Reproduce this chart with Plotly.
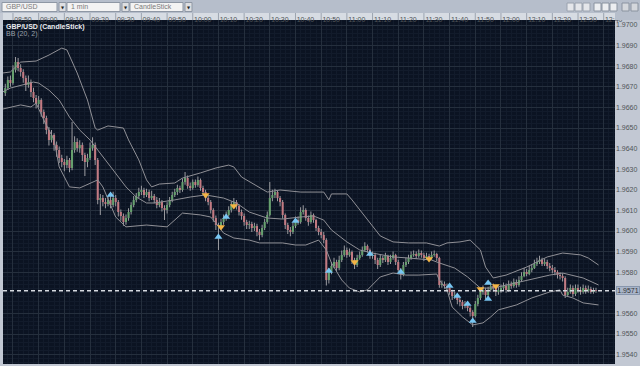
import pandas as pd
import plotly.graph_objects as go

# ---------------- data ----------------
DATE = "2008-01-15"
BAR_START = "08:47"          # first 1-minute bar
SYMBOL = "GBP/USD"
INTERVAL = "1 min"
CHART_TYPE = "CandleStick"
INDICATOR = "BB (20, 2)"

OPEN = [
    1.96670, 1.96694, 1.96733, 1.96718, 1.96782, 1.96820, 1.96791, 1.96772, 1.96743, 1.96709,
    1.96723, 1.96675, 1.96646, 1.96617, 1.96636, 1.96578, 1.96549, 1.96490, 1.96442, 1.96466,
    1.96418, 1.96393, 1.96354, 1.96335, 1.96320, 1.96345, 1.96306, 1.96393, 1.96432, 1.96403,
    1.96418, 1.96369, 1.96335, 1.96354, 1.96403, 1.96418, 1.96345, 1.96151, 1.96160, 1.96141,
    1.96131, 1.96151, 1.96126, 1.96160, 1.96141, 1.96092, 1.96073, 1.96044, 1.96063, 1.96092,
    1.96126, 1.96151, 1.96170, 1.96189, 1.96199, 1.96175, 1.96189, 1.96160, 1.96170, 1.96151,
    1.96126, 1.96141, 1.96112, 1.96102, 1.96126, 1.96151, 1.96175, 1.96189, 1.96209, 1.96199,
    1.96238, 1.96257, 1.96219, 1.96209, 1.96238, 1.96223, 1.96248, 1.96209, 1.96189, 1.96160,
    1.96141, 1.96102, 1.96063, 1.96029, 1.96024, 1.96044, 1.96063, 1.96078, 1.96102, 1.96126,
    1.96141, 1.96121, 1.96092, 1.96073, 1.96044, 1.96029, 1.96034, 1.96015, 1.96024, 1.95995,
    1.95981, 1.96015, 1.96044, 1.96078, 1.96160, 1.96175, 1.96189, 1.96160, 1.96141, 1.96078,
    1.96029, 1.96005, 1.95995, 1.96024, 1.96053, 1.96044, 1.96092, 1.96102, 1.96063, 1.96044,
    1.96078, 1.96053, 1.96015, 1.95995, 1.95981, 1.95956, 1.95762, 1.95801, 1.95830, 1.95850,
    1.95820, 1.95859, 1.95884, 1.95908, 1.95884, 1.95898, 1.95859, 1.95835, 1.95869, 1.95884,
    1.95908, 1.95927, 1.95908, 1.95879, 1.95884, 1.95859, 1.95835, 1.95869, 1.95859, 1.95879,
    1.95850, 1.95869, 1.95884, 1.95850, 1.95811, 1.95786, 1.95835, 1.95850, 1.95869, 1.95884,
    1.95888, 1.95879, 1.95893, 1.95884, 1.95869, 1.95879, 1.95869, 1.95884, 1.95888, 1.95869,
    1.95738, 1.95743, 1.95733, 1.95723, 1.95704, 1.95685, 1.95689, 1.95665, 1.95655, 1.95636,
    1.95646, 1.95626, 1.95607, 1.95587, 1.95646, 1.95675, 1.95704, 1.95714, 1.95689, 1.95714,
    1.95733, 1.95723, 1.95704, 1.95714, 1.95723, 1.95733, 1.95714, 1.95743, 1.95733, 1.95753,
    1.95738, 1.95762, 1.95782, 1.95801, 1.95791, 1.95811, 1.95820, 1.95840, 1.95850, 1.95859,
    1.95840, 1.95850, 1.95830, 1.95820, 1.95811, 1.95801, 1.95786, 1.95782, 1.95772, 1.95689,
    1.95704, 1.95723, 1.95694, 1.95723, 1.95714, 1.95704, 1.95723, 1.95709, 1.95719, 1.95704,
    1.95714,
]
HIGH = [
    1.96715, 1.96750, 1.96755, 1.96805, 1.96845, 1.96840, 1.96810, 1.96785, 1.96755, 1.96755,
    1.96735, 1.96695, 1.96660, 1.96655, 1.96645, 1.96590, 1.96560, 1.96505, 1.96490, 1.96475,
    1.96435, 1.96410, 1.96370, 1.96350, 1.96365, 1.96355, 1.96529, 1.96460, 1.96450, 1.96440,
    1.96430, 1.96380, 1.96375, 1.96430, 1.96455, 1.96430, 1.96355, 1.96180, 1.96175, 1.96160,
    1.96170, 1.96185, 1.96190, 1.96175, 1.96150, 1.96105, 1.96085, 1.96080, 1.96110, 1.96140,
    1.96170, 1.96185, 1.96210, 1.96220, 1.96210, 1.96205, 1.96200, 1.96195, 1.96180, 1.96165,
    1.96160, 1.96150, 1.96125, 1.96140, 1.96165, 1.96190, 1.96205, 1.96225, 1.96220, 1.96255,
    1.96286, 1.96270, 1.96235, 1.96250, 1.96250, 1.96265, 1.96255, 1.96220, 1.96200, 1.96170,
    1.96150, 1.96110, 1.96075, 1.96040, 1.96060, 1.96080, 1.96095, 1.96120, 1.96145, 1.96160,
    1.96150, 1.96130, 1.96105, 1.96085, 1.96055, 1.96050, 1.96045, 1.96040, 1.96035, 1.96010,
    1.96030, 1.96060, 1.96095, 1.96238, 1.96200, 1.96205, 1.96195, 1.96170, 1.96150, 1.96085,
    1.96040, 1.96020, 1.96040, 1.96070, 1.96070, 1.96115, 1.96125, 1.96110, 1.96075, 1.96095,
    1.96085, 1.96060, 1.96025, 1.96010, 1.95995, 1.95965, 1.95820, 1.95850, 1.95870, 1.95860,
    1.95880, 1.95905, 1.95930, 1.95920, 1.95915, 1.95905, 1.95870, 1.95885, 1.95900, 1.95925,
    1.95945, 1.95935, 1.95915, 1.95900, 1.95895, 1.95870, 1.95885, 1.95880, 1.95895, 1.95885,
    1.95885, 1.95900, 1.95890, 1.95860, 1.95820, 1.95850, 1.95870, 1.95885, 1.95900, 1.95905,
    1.95900, 1.95910, 1.95905, 1.95895, 1.95895, 1.95890, 1.95900, 1.95905, 1.95895, 1.95875,
    1.95760, 1.95755, 1.95745, 1.95735, 1.95715, 1.95705, 1.95695, 1.95680, 1.95665, 1.95660,
    1.95655, 1.95635, 1.95615, 1.95660, 1.95690, 1.95720, 1.95735, 1.95725, 1.95730, 1.95750,
    1.95745, 1.95735, 1.95730, 1.95740, 1.95750, 1.95745, 1.95760, 1.95755, 1.95770, 1.95765,
    1.95780, 1.95800, 1.95820, 1.95815, 1.95830, 1.95840, 1.95860, 1.95870, 1.95880, 1.95870,
    1.95865, 1.95860, 1.95845, 1.95835, 1.95825, 1.95810, 1.95800, 1.95795, 1.95780, 1.95725,
    1.95740, 1.95735, 1.95740, 1.95740, 1.95730, 1.95740, 1.95735, 1.95735, 1.95730, 1.95725,
    1.95725,
]
LOW = [
    1.96655, 1.96685, 1.96700, 1.96710, 1.96770, 1.96775, 1.96750, 1.96720, 1.96680, 1.96695,
    1.96650, 1.96625, 1.96595, 1.96600, 1.96555, 1.96520, 1.96470, 1.96415, 1.96430, 1.96390,
    1.96360, 1.96330, 1.96310, 1.96290, 1.96305, 1.96285, 1.96295, 1.96380, 1.96385, 1.96380,
    1.96340, 1.96267, 1.96310, 1.96345, 1.96390, 1.96320, 1.96130, 1.96078, 1.96120, 1.96110,
    1.96120, 1.96110, 1.96115, 1.96120, 1.96070, 1.96050, 1.96025, 1.96030, 1.96050, 1.96080,
    1.96115, 1.96140, 1.96160, 1.96175, 1.96160, 1.96165, 1.96145, 1.96150, 1.96135, 1.96110,
    1.96115, 1.96095, 1.96053, 1.96085, 1.96115, 1.96140, 1.96165, 1.96175, 1.96185, 1.96190,
    1.96225, 1.96205, 1.96195, 1.96200, 1.96210, 1.96215, 1.96195, 1.96175, 1.96145, 1.96125,
    1.96085, 1.96045, 1.96005, 1.95908, 1.96010, 1.96030, 1.96050, 1.96070, 1.96090, 1.96115,
    1.96105, 1.96075, 1.96055, 1.96025, 1.96010, 1.96010, 1.95995, 1.96000, 1.95975, 1.95955,
    1.95970, 1.96005, 1.96035, 1.96070, 1.96145, 1.96160, 1.96145, 1.96120, 1.96060, 1.96010,
    1.95985, 1.95975, 1.95985, 1.96015, 1.96030, 1.96035, 1.96080, 1.96050, 1.96025, 1.96035,
    1.96040, 1.96000, 1.95980, 1.95965, 1.95940, 1.95735, 1.95745, 1.95790, 1.95820, 1.95805,
    1.95810, 1.95850, 1.95875, 1.95870, 1.95875, 1.95840, 1.95815, 1.95825, 1.95860, 1.95875,
    1.95900, 1.95895, 1.95865, 1.95865, 1.95840, 1.95815, 1.95825, 1.95845, 1.95850, 1.95835,
    1.95840, 1.95860, 1.95835, 1.95795, 1.95765, 1.95780, 1.95825, 1.95840, 1.95860, 1.95875,
    1.95865, 1.95870, 1.95870, 1.95855, 1.95860, 1.95855, 1.95860, 1.95875, 1.95855, 1.95725,
    1.95725, 1.95720, 1.95705, 1.95690, 1.95665, 1.95670, 1.95645, 1.95635, 1.95620, 1.95625,
    1.95610, 1.95585, 1.95534, 1.95580, 1.95635, 1.95665, 1.95690, 1.95670, 1.95680, 1.95705,
    1.95705, 1.95685, 1.95690, 1.95700, 1.95710, 1.95700, 1.95705, 1.95720, 1.95725, 1.95725,
    1.95730, 1.95755, 1.95775, 1.95780, 1.95785, 1.95800, 1.95815, 1.95830, 1.95840, 1.95830,
    1.95830, 1.95815, 1.95805, 1.95795, 1.95785, 1.95770, 1.95765, 1.95755, 1.95675, 1.95680,
    1.95695, 1.95680, 1.95685, 1.95700, 1.95690, 1.95695, 1.95695, 1.95700, 1.95695, 1.95695,
    1.95700,
]
CLOSE = [
    1.96694, 1.96733, 1.96718, 1.96782, 1.96820, 1.96791, 1.96772, 1.96743, 1.96709, 1.96723,
    1.96675, 1.96646, 1.96617, 1.96636, 1.96578, 1.96549, 1.96490, 1.96442, 1.96466, 1.96418,
    1.96393, 1.96354, 1.96335, 1.96320, 1.96345, 1.96306, 1.96393, 1.96432, 1.96403, 1.96418,
    1.96369, 1.96335, 1.96354, 1.96403, 1.96418, 1.96345, 1.96151, 1.96160, 1.96141, 1.96131,
    1.96151, 1.96126, 1.96160, 1.96141, 1.96092, 1.96073, 1.96044, 1.96063, 1.96092, 1.96126,
    1.96151, 1.96170, 1.96189, 1.96199, 1.96175, 1.96189, 1.96160, 1.96170, 1.96151, 1.96126,
    1.96141, 1.96112, 1.96102, 1.96126, 1.96151, 1.96175, 1.96189, 1.96209, 1.96199, 1.96238,
    1.96257, 1.96219, 1.96209, 1.96238, 1.96223, 1.96248, 1.96209, 1.96189, 1.96160, 1.96141,
    1.96102, 1.96063, 1.96029, 1.96024, 1.96044, 1.96063, 1.96078, 1.96102, 1.96126, 1.96141,
    1.96121, 1.96092, 1.96073, 1.96044, 1.96029, 1.96034, 1.96015, 1.96024, 1.95995, 1.95981,
    1.96015, 1.96044, 1.96078, 1.96160, 1.96175, 1.96189, 1.96160, 1.96141, 1.96078, 1.96029,
    1.96005, 1.95995, 1.96024, 1.96053, 1.96044, 1.96092, 1.96102, 1.96063, 1.96044, 1.96078,
    1.96053, 1.96015, 1.95995, 1.95981, 1.95956, 1.95762, 1.95801, 1.95830, 1.95850, 1.95820,
    1.95859, 1.95884, 1.95908, 1.95884, 1.95898, 1.95859, 1.95835, 1.95869, 1.95884, 1.95908,
    1.95927, 1.95908, 1.95879, 1.95884, 1.95859, 1.95835, 1.95869, 1.95859, 1.95879, 1.95850,
    1.95869, 1.95884, 1.95850, 1.95811, 1.95786, 1.95835, 1.95850, 1.95869, 1.95884, 1.95888,
    1.95879, 1.95893, 1.95884, 1.95869, 1.95879, 1.95869, 1.95884, 1.95888, 1.95869, 1.95738,
    1.95743, 1.95733, 1.95723, 1.95704, 1.95685, 1.95689, 1.95665, 1.95655, 1.95636, 1.95646,
    1.95626, 1.95607, 1.95587, 1.95646, 1.95675, 1.95704, 1.95714, 1.95689, 1.95714, 1.95733,
    1.95723, 1.95704, 1.95714, 1.95723, 1.95733, 1.95714, 1.95743, 1.95733, 1.95753, 1.95738,
    1.95762, 1.95782, 1.95801, 1.95791, 1.95811, 1.95820, 1.95840, 1.95850, 1.95859, 1.95840,
    1.95850, 1.95830, 1.95820, 1.95811, 1.95801, 1.95786, 1.95782, 1.95772, 1.95689, 1.95704,
    1.95723, 1.95694, 1.95723, 1.95714, 1.95704, 1.95723, 1.95709, 1.95719, 1.95704, 1.95714,
    1.95710,
]

# Bollinger band lines as drawn on the picture
BB_UPPER_T = ["08:46", "08:49", "08:53", "08:59", "09:04", "09:07", "09:09", "09:11", "09:15", "09:19",
              "09:22", "09:23", "09:27", "09:33", "09:35", "09:39", "09:42", "09:44", "09:47", "09:53",
              "09:56", "10:03", "10:09", "10:14", "10:16", "10:19", "10:23", "10:29", "10:34", "10:38",
              "10:42", "10:51", "10:53", "10:54", "11:00", "11:02", "11:08", "11:13", "11:18", "11:24",
              "11:31", "11:36", "11:39", "11:44", "11:48", "11:52", "11:54", "11:57", "12:02", "12:10",
              "12:18", "12:24", "12:31", "12:34", "12:38"]
BB_UPPER = [1.96767, 1.96772, 1.96820, 1.96825, 1.96854, 1.96874, 1.96888, 1.96879, 1.96767, 1.96636,
            1.96500, 1.96490, 1.96510, 1.96500, 1.96442, 1.96345, 1.96248, 1.96214, 1.96228, 1.96233,
            1.96257, 1.96282, 1.96306, 1.96320, 1.96311, 1.96262, 1.96233, 1.96189, 1.96199, 1.96194,
            1.96189, 1.96189, 1.96151, 1.96180, 1.96180, 1.96151, 1.96053, 1.95976, 1.95947, 1.95942,
            1.95942, 1.95927, 1.95942, 1.95947, 1.95956, 1.95908, 1.95825, 1.95772, 1.95786, 1.95825,
            1.95874, 1.95893, 1.95884, 1.95869, 1.95835]

BB_MID_T = ["08:46", "08:49", "08:58", "09:00", "09:04", "09:08", "09:12", "09:16", "09:20", "09:24",
            "09:29", "09:34", "09:38", "09:42", "09:45", "09:53", "09:59", "10:05", "10:12", "10:17",
            "10:22", "10:29", "10:35", "10:42", "10:47", "10:51", "10:54", "11:00", "11:05", "11:10",
            "11:18", "11:24", "11:33", "11:36", "11:42", "11:47", "11:52", "11:57", "12:06", "12:14",
            "12:19", "12:24", "12:32", "12:38"]
BB_MID = [1.96675, 1.96694, 1.96723, 1.96718, 1.96684, 1.96636, 1.96553, 1.96490, 1.96442, 1.96379,
          1.96296, 1.96214, 1.96165, 1.96136, 1.96136, 1.96151, 1.96165, 1.96175, 1.96160, 1.96136,
          1.96092, 1.96063, 1.96058, 1.96068, 1.96073, 1.96053, 1.96005, 1.95947, 1.95908, 1.95893,
          1.95874, 1.95869, 1.95859, 1.95845, 1.95820, 1.95777, 1.95723, 1.95723, 1.95748, 1.95772,
          1.95786, 1.95796, 1.95772, 1.95738]

BB_LOWER_T = ["08:46", "08:53", "08:57", "08:59", "09:02", "09:06", "09:08", "09:12", "09:16", "09:20",
              "09:23", "09:25", "09:30", "09:34", "09:42", "09:50", "09:53", "09:56", "10:03", "10:07",
              "10:09", "10:12", "10:16", "10:22", "10:26", "10:35", "10:40", "10:44", "10:49", "10:52",
              "10:54", "10:58", "11:01", "11:05", "11:08", "11:13", "11:18", "11:23", "11:28", "11:35",
              "11:36", "11:39", "11:41", "11:45", "11:49", "11:53", "11:56", "11:59", "12:06", "12:12",
              "12:19", "12:23", "12:24", "12:28", "12:32", "12:38"]
BB_LOWER = [1.96592, 1.96612, 1.96602, 1.96621, 1.96539, 1.96442, 1.96311, 1.96214, 1.96209, 1.96233,
            1.96248, 1.96214, 1.96068, 1.96020, 1.96029, 1.96020, 1.96053, 1.96087, 1.96078, 1.96068,
            1.96039, 1.95990, 1.95966, 1.95956, 1.95942, 1.95942, 1.95932, 1.95932, 1.95956, 1.95908,
            1.95845, 1.95762, 1.95723, 1.95704, 1.95714, 1.95777, 1.95796, 1.95786, 1.95786, 1.95791,
            1.95762, 1.95714, 1.95631, 1.95583, 1.95544, 1.95554, 1.95583, 1.95617, 1.95641, 1.95675,
            1.95704, 1.95714, 1.95689, 1.95675, 1.95651, 1.95641]

# signal arrows
SIG_UP_T = ["09:28", "10:10", "10:13", "10:40", "10:53", "11:09", "11:21", "11:40", "11:43",
            "11:47", "11:49", "11:55", "11:55"]
SIG_UP = [1.96175, 1.95971, 1.96068, 1.96049, 1.95806, 1.95888, 1.95801, 1.95733, 1.95685,
          1.95646, 1.95563, 1.95748, 1.95670]
SIG_DN_T = ["10:05", "10:11", "10:16", "11:03", "11:32", "11:52", "11:58"]
SIG_DN = [1.96175, 1.96020, 1.96121, 1.95850, 1.95864, 1.95718, 1.95733]

# price-axis labels shown (1.9570 is hidden under the last-price tag)
Y_TICKS = [1.9540, 1.9550, 1.9560, 1.9580, 1.9590, 1.9600, 1.9610, 1.9620,
           1.9630, 1.9640, 1.9650, 1.9660, 1.9670, 1.9680, 1.9690, 1.9700]

# ---------------- styling / layout constants ----------------
W, H = 640, 366
ML, MR, MT, MB = 3, 25, 20, 2
BG = "#0b1322"
GRID = "#252f3d"
MINOR = "#121b2b"
PANEL = "#c2c8d3"
TOOLBAR = "#b6becb"
STRIP = "#d7dce3"
FONT = "Liberation Sans Narrow, Arial Narrow, Liberation Sans, Arial, sans-serif"
UP_BODY = "#66a06e"
DN_BODY = "#c27a82"
WICK = "#a4a4a8"
BAND = "#909096"

X_VIEW = [f"{DATE} 08:46:07", f"{DATE} 12:44:24"]
Y_VIEW = [1.953544, 1.970243]


def fx(px):
    return (px - ML) / (W - ML - MR)


def fy(py):
    return (H - MB - py) / (H - MT - MB)


def ts(lst):
    return [pd.Timestamp(f"{DATE} {t}") for t in lst]


times = pd.date_range(f"{DATE} {BAR_START}", periods=len(CLOSE), freq="1min")

fig = go.Figure()

# wicks: thin bars from low to high (bar layer sits under the candle bodies)
fig.add_trace(go.Bar(x=times, base=LOW, y=[h - l for h, l in zip(HIGH, LOW)],
                     width=22000, marker=dict(color=WICK, line=dict(width=0)),
                     hoverinfo="skip"))

# candle bodies
fig.add_trace(go.Candlestick(
    x=times, open=OPEN, high=HIGH, low=LOW, close=CLOSE,
    increasing=dict(fillcolor=UP_BODY, line=dict(color=UP_BODY, width=0)),
    decreasing=dict(fillcolor=DN_BODY, line=dict(color=DN_BODY, width=0)),
    whiskerwidth=0, hoverinfo="skip"))

# Bollinger bands
for tt, vv in ((BB_UPPER_T, BB_UPPER), (BB_MID_T, BB_MID), (BB_LOWER_T, BB_LOWER)):
    fig.add_trace(go.Scatter(x=ts(tt), y=vv, mode="lines",
                             line=dict(color=BAND, width=1), hoverinfo="skip"))

# signals
fig.add_trace(go.Scatter(x=ts(SIG_UP_T), y=SIG_UP, mode="markers",
                         marker=dict(symbol="triangle-up", size=7, color="#78c6f2",
                                     line=dict(width=0)), hoverinfo="skip"))
fig.add_trace(go.Scatter(x=ts(SIG_DN_T), y=SIG_DN, mode="markers",
                         marker=dict(symbol="triangle-down", size=7, color="#f3b545",
                                     line=dict(width=0)), hoverinfo="skip"))

shapes = []


def rect(x0, y0, x1, y1, fill, line=None, layer="below"):
    shapes.append(dict(type="rect", xref="paper", yref="paper",
                       x0=fx(x0), x1=fx(x1), y0=fy(y1), y1=fy(y0),
                       fillcolor=fill, layer=layer,
                       line=dict(color=line or fill, width=1 if line else 0)))


# toolbar and time strip
rect(0, 0, 640, 13, TOOLBAR)
rect(3, 13, 615, 20, STRIP)
rect(615, 13, 640, 20, TOOLBAR, layer="above")
# dropdown boxes
for x0, x1 in ((2, 57), (67, 120), (130, 183)):
    rect(x0, 2.5, x1, 11.5, "#f3f3f3", "#8e97a4")
    rect(x1 + 2, 2.5, x1 + 9, 11.5, "#dedfe2", "#8e97a4")
# right-hand toolbar icons
for x0 in (567, 575, 583):
    rect(x0, 3, x0 + 7, 11, "#e4e6ea", "#9aa2ae")
for x0 in (594, 602, 610):
    rect(x0, 3, x0 + 7, 11, "#eceef1", "#8a93a0")
for x0 in (622, 631):
    rect(x0, 3, x0 + 7, 11, "#d4d7dc", "#8a93a0")

# separators in the time strip at each 10-minute tick
for t in pd.date_range(f"{DATE} 08:50", f"{DATE} 12:40", freq="10min"):
    shapes.append(dict(type="line", xref="x", yref="paper", x0=t, x1=t,
                       y0=fy(20), y1=fy(13), line=dict(color="#9ca4b0", width=1),
                       layer="above"))

# current price line
shapes.append(dict(type="line", xref="paper", yref="y", x0=0, x1=1,
                   y0=CLOSE[-1], y1=CLOSE[-1],
                   line=dict(color="#d6dae0", width=1.5, dash="4px,3px"), layer="above"))

annotations = []
# dropdown texts
for x0, txt in ((4, SYMBOL), (69, INTERVAL), (132, CHART_TYPE)):
    annotations.append(dict(xref="paper", yref="paper", x=fx(x0), y=fy(7), text=txt,
                            showarrow=False, xanchor="left", yanchor="middle",
                            font=dict(family=FONT, size=7, color="#7a7a7a")))
for x1 in (57, 120, 183):
    annotations.append(dict(xref="paper", yref="paper", x=fx(x1 + 5.5), y=fy(7.5), text="▼",
                            showarrow=False, xanchor="center", yanchor="middle",
                            font=dict(family="DejaVu Sans", size=4, color="#222")))
# chart header
annotations.append(dict(xref="paper", yref="paper", x=fx(3.5), y=fy(21), text=f"<b>{SYMBOL} ({CHART_TYPE})</b>",
                        showarrow=False, xanchor="left", yanchor="top",
                        font=dict(family=FONT, size=7, color="#e8eaee")))
annotations.append(dict(xref="paper", yref="paper", x=fx(3.5), y=fy(28), text=INDICATOR,
                        showarrow=False, xanchor="left", yanchor="top",
                        font=dict(family=FONT, size=7, color="#9aa0aa")))
# last price tag
annotations.append(dict(xref="paper", yref="y", x=1, y=CLOSE[-1], xshift=1,
                        text=f"{CLOSE[-1]:.4f}", showarrow=False, xanchor="left", yanchor="middle",
                        bgcolor="#a9b5c9", bordercolor="#8796ad", borderwidth=1, borderpad=0,
                        width=22, height=7,
                        font=dict(family=FONT, size=7, color="#333")))

fig.update_layout(
    width=W, height=H,
    margin=dict(l=ML, r=MR, t=MT, b=MB, pad=0),
    paper_bgcolor=PANEL, plot_bgcolor=BG,
    showlegend=False, hovermode=False,
    barmode="overlay", boxgap=0.2, boxgroupgap=0,
    shapes=shapes, annotations=annotations,
    xaxis=dict(type="date", range=X_VIEW, side="top",
               rangeslider=dict(visible=False),
               showgrid=True, gridcolor=GRID, gridwidth=1,
               tick0=f"{DATE} 08:50", dtick=600000, tickformat="%H:%M",
               ticks="", ticklabelshift=10, ticklabelstandoff=-4,
               tickfont=dict(family=FONT, size=7, color="#505458"),
               zeroline=False, showline=False, fixedrange=True,
               minor=dict(dtick=120000, showgrid=True, gridcolor=MINOR, gridwidth=1)),
    yaxis=dict(side="right", range=Y_VIEW, tickmode="array", tickvals=Y_TICKS,
               tickformat=".4f",
               showgrid=True, gridcolor=GRID, gridwidth=1, ticks="",
               tickfont=dict(family=FONT, size=7, color="#505458"),
               zeroline=False, showline=False, fixedrange=True,
               minor=dict(dtick=0.0002, showgrid=True, gridcolor=MINOR, gridwidth=1)),
)

fig.write_html("out.html", config={"displayModeBar": False, "staticPlot": True},
               post_script="document.body.style.margin='0';")
